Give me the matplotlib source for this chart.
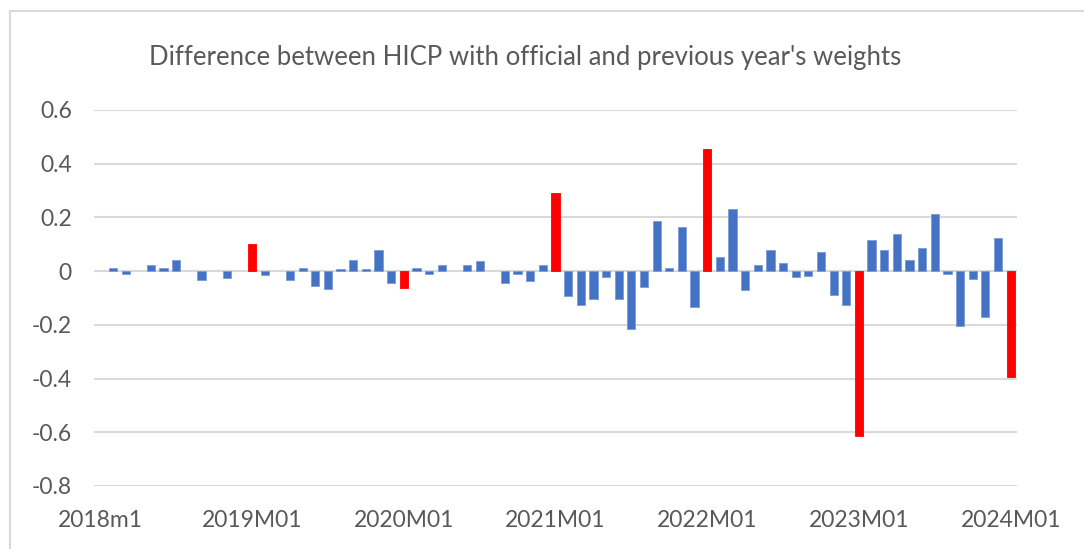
import numpy as np
import matplotlib
matplotlib.use("Agg")
from matplotlib import pyplot as plt
from matplotlib.patches import Rectangle

plt.rcParams['font.family'] = ['Lato', 'DejaVu Sans']

# monthly difference, 2018m1 .. 2024M01
diff_2018 = [0, 0.01, -0.01, 0, 0.022, 0.01, 0.042, 0, -0.032, 0, -0.027, 0]
diff_2019 = [0.1, -0.014, 0, -0.034, 0.013, -0.057, -0.068, 0.008, 0.04, 0.008, 0.08, -0.046]
diff_2020 = [-0.063, 0.013, -0.011, 0.024, 0, 0.022, 0.036, 0, -0.045, -0.011, -0.035, 0.024]
diff_2021 = [0.29, -0.092, -0.126, -0.103, -0.022, -0.103, -0.217, -0.058, 0.186, 0.012, 0.163, -0.132]
diff_2022 = [0.455, 0.054, 0.23, -0.07, 0.022, 0.08, 0.03, -0.022, -0.017, 0.07, -0.087, -0.127]
diff_2023 = [-0.615, 0.115, 0.08, 0.14, 0.04, 0.087, 0.213, -0.012, -0.205, -0.028, -0.172, 0.123]
diff_2024 = [-0.395]

x_labels = ['2018m1', '2019M01', '2020M01', '2021M01', '2022M01', '2023M01', '2024M01']
y_ticks = [-0.8, -0.6, -0.4, -0.2, 0, 0.2, 0.4, 0.6]
y_labels = ['-0.8', '-0.6', '-0.4', '-0.2', '0', '0.2', '0.4', '0.6']

values = np.array(diff_2018 + diff_2019 + diff_2020 + diff_2021 +
                  diff_2022 + diff_2023 + diff_2024)
n = len(values)
x = np.arange(n)
# January of each year after the first one is highlighted
colors = ['#FF0000' if (i % 12 == 0 and i > 0) else '#4472C4' for i in x]
edges = ['#FF0000' if (i % 12 == 0 and i > 0) else '#7E9BD6' for i in x]
lws = [0.6 if v != 0 else 0 for v in values]

W, H = 1084, 549
fig = plt.figure(figsize=(W / 100, H / 100), dpi=100)
fig.patches.append(Rectangle((10 / W, -0.1), 1.2, 1 - 11 / H + 0.1,
                             transform=fig.transFigure, fill=False,
                             edgecolor='#D9D9D9', linewidth=1.5))

ax = fig.add_axes([94 / W, 1 - 486 / H, (1017 - 94) / W, (486 - 110) / H])
ax.bar(x, values, width=0.65, color=colors, edgecolor=edges, linewidth=lws, zorder=3)
ax.axhline(0, color='#D9D9D9', linewidth=1.5, zorder=2)

ax.set_xlim(-0.5, n - 0.5)
ax.set_ylim(-0.8, 0.6)
ax.set_yticks(y_ticks)
ax.set_yticklabels(y_labels)
ax.set_xticks(x[::12])
ax.set_xticklabels(x_labels)
ax.yaxis.grid(True, color='#D9D9D9', linewidth=1.5, zorder=0)
ax.set_axisbelow(True)
for s in ax.spines.values():
    s.set_visible(False)
ax.tick_params(axis='both', length=0, colors='#595959', labelsize=16.5)
ax.tick_params(axis='y', pad=16)
ax.tick_params(axis='x', pad=17)

fig.text(525 / W, 1 - 58 / H, "Difference between HICP with official and previous year's weights",
         ha='center', va='center', fontsize=18.5, color='#595959')

fig.savefig('out.png', dpi=100, facecolor='white')
